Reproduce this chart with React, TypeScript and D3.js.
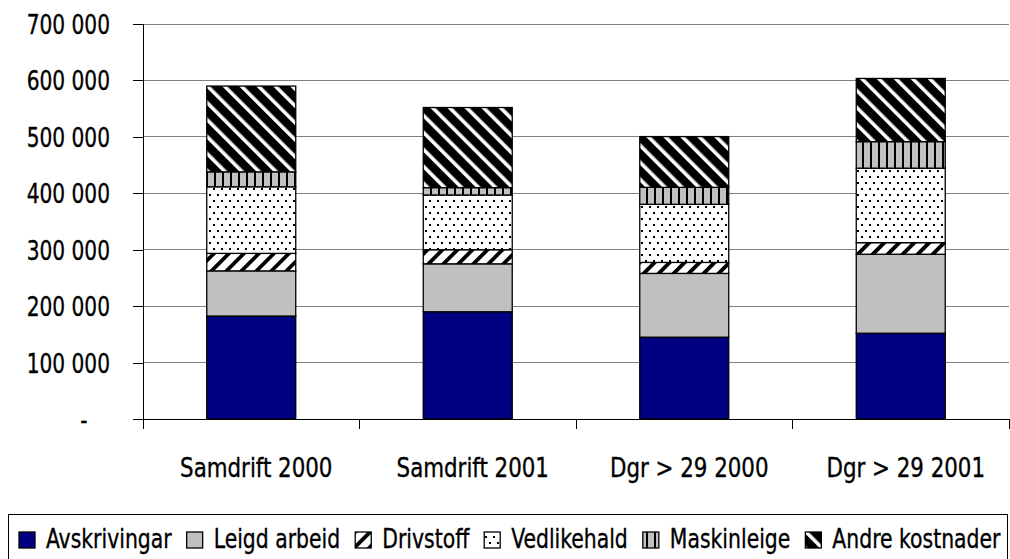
import React, { useEffect, useRef } from 'react';
import * as d3 from 'd3';

const categories = ['Samdrift 2000', 'Samdrift 2001', 'Dgr > 29 2000', 'Dgr > 29 2001'];
const seriesNames = ['Avskrivingar', 'Leigd arbeid', 'Drivstoff', 'Vedlikehald', 'Maskinleige', 'Andre kostnader'];
const avskrivingar = [182500, 190000, 145000, 152000];
const leigdArbeid = [80000, 85000, 113000, 140000];
const drivstoff = [31000, 25000, 19500, 20500];
const vedlikehald = [118000, 97000, 103000, 132000];
const maskinleige = [26500, 13000, 30000, 47000];
const andreKostnader = [152000, 142000, 90000, 112000];
const yTicks = [0, 100000, 200000, 300000, 400000, 500000, 600000, 700000];

const FONT = "'DejaVu Sans Condensed', 'DejaVu Sans', sans-serif";

export default function App() {
  const svgRef = useRef<SVGSVGElement>(null);

  useEffect(() => {
    document.body.style.margin = '0';
    const svg = d3.select(svgRef.current);
    svg.selectAll('*').remove();
    const width = 1010;
    const height = 559;
    const margin = { top: 24, right: 1, bottom: 140, left: 143 };

    const x = d3.scaleBand()
      .domain(categories)
      .range([margin.left, width - margin.right])
      .paddingInner(0.589)
      .paddingOuter(0.2945);

    const y = d3.scaleLinear()
      .domain([0, 700000])
      .range([height - margin.bottom, margin.top]);

    // condensed text helper (the original uses a narrow font)
    const addText = (g: any, tx: number, ty: number, str: string, anchor: string, sx: number, size = 27) =>
      g.append('text')
        .attr('transform', `translate(${tx},${ty}) scale(${sx},1)`)
        .attr('text-anchor', anchor)
        .attr('font-family', FONT)
        .attr('font-size', size)
        .attr('fill', '#000')
        .attr('stroke', '#000')
        .attr('stroke-width', 0.35)
        .text(str);

    // patterns
    const defs = svg.append('defs');
    const p1 = defs.append('pattern').attr('id', 'p-driv').attr('patternUnits', 'userSpaceOnUse')
      .attr('width', 10.6).attr('height', 10.6).attr('patternTransform', 'rotate(45)');
    p1.append('rect').attr('width', 10.6).attr('height', 10.6).attr('fill', '#fff');
    p1.append('rect').attr('width', 3.8).attr('height', 10.6).attr('fill', '#000');

    const p2 = defs.append('pattern').attr('id', 'p-ved').attr('patternUnits', 'userSpaceOnUse')
      .attr('width', 8).attr('height', 12);
    p2.append('rect').attr('width', 8).attr('height', 12).attr('fill', '#fff');
    p2.append('rect').attr('x', 1).attr('y', 2).attr('width', 2).attr('height', 2).attr('fill', '#000');
    p2.append('rect').attr('x', 5).attr('y', 8).attr('width', 2).attr('height', 2).attr('fill', '#000');

    const p3 = defs.append('pattern').attr('id', 'p-mask').attr('patternUnits', 'userSpaceOnUse')
      .attr('width', 8).attr('height', 8);
    p3.append('rect').attr('width', 8).attr('height', 8).attr('fill', '#c0c0c0');
    p3.append('rect').attr('x', 6).attr('width', 2).attr('height', 8).attr('fill', '#000');

    const p4 = defs.append('pattern').attr('id', 'p-andre').attr('patternUnits', 'userSpaceOnUse')
      .attr('width', 12).attr('height', 12).attr('patternTransform', 'rotate(-45)');
    p4.append('rect').attr('width', 12).attr('height', 12).attr('fill', '#000');
    p4.append('rect').attr('width', 3.6).attr('height', 12).attr('fill', '#fff');

    const fills = ['#000080', '#c0c0c0', 'url(#p-driv)', 'url(#p-ved)', 'url(#p-mask)', 'url(#p-andre)'];

    // gridlines
    svg.append('g')
      .selectAll('line')
      .data(yTicks.slice(1))
      .enter()
      .append('line')
      .attr('x1', margin.left)
      .attr('x2', width - margin.right)
      .attr('y1', d => y(d))
      .attr('y2', d => y(d))
      .attr('stroke', '#808080')
      .attr('stroke-width', 1)
      .attr('shape-rendering', 'crispEdges');

    // y axis
    const yAxis = svg.append('g')
      .attr('transform', `translate(${margin.left},0)`)
      .call(d3.axisLeft(y).tickValues(yTicks).tickSize(10).tickFormat(() => ''));
    yAxis.select('.domain').attr('stroke', '#000').attr('shape-rendering', 'crispEdges');
    yAxis.selectAll('.tick line').attr('stroke', '#000').attr('shape-rendering', 'crispEdges');
    yTicks.forEach(v => {
      if (v === 0) {
        addText(yAxis, -59, y(v) + 10, '-', 'middle', 0.83);
      } else {
        addText(yAxis, -33, y(v) + 10, d3.format(',')(v).replace(/,/g, ' '), 'end', 0.83);
      }
    });

    // stacked bars
    const rows = categories.map((c, i) => ({
      cat: c,
      [seriesNames[0]]: avskrivingar[i],
      [seriesNames[1]]: leigdArbeid[i],
      [seriesNames[2]]: drivstoff[i],
      [seriesNames[3]]: vedlikehald[i],
      [seriesNames[4]]: maskinleige[i],
      [seriesNames[5]]: andreKostnader[i],
    }));
    const stacked = d3.stack<any>().keys(seriesNames)(rows);

    svg.append('g')
      .selectAll('g')
      .data(stacked)
      .enter()
      .append('g')
      .attr('fill', (d, i) => fills[i])
      .selectAll('rect')
      .data(d => d)
      .enter()
      .append('rect')
      .attr('x', d => x(d.data.cat) as number)
      .attr('y', d => y(d[1]))
      .attr('width', x.bandwidth())
      .attr('height', d => y(d[0]) - y(d[1]))
      .attr('stroke', '#000')
      .attr('stroke-width', 1.3);

    // x axis
    const xAxisG = svg.append('g').attr('transform', `translate(0,${y(0)})`);
    xAxisG.append('line')
      .attr('x1', margin.left - 10).attr('x2', width - margin.right)
      .attr('stroke', '#000').attr('shape-rendering', 'crispEdges');
    const step = x.step();
    xAxisG.selectAll('line.tk')
      .data(d3.range(categories.length + 1))
      .enter()
      .append('line')
      .attr('class', 'tk')
      .attr('x1', i => margin.left + i * step)
      .attr('x2', i => margin.left + i * step)
      .attr('y1', 0).attr('y2', 10)
      .attr('stroke', '#000').attr('shape-rendering', 'crispEdges');
    categories.forEach(c => {
      addText(xAxisG, (x(c) as number) + x.bandwidth() / 2 + 5, 58, c, 'middle', 0.88);
    });

    // legend
    const lg = svg.append('g');
    lg.append('rect')
      .attr('x', 8.5).attr('y', 514.5)
      .attr('width', 999).attr('height', 60)
      .attr('fill', '#fff').attr('stroke', '#000');
    let cx = 19;
    const sx = 0.84;
    seriesNames.forEach((name, i) => {
      lg.append('rect')
        .attr('x', cx).attr('y', 532)
        .attr('width', 16).attr('height', 16)
        .attr('fill', fills[i]).attr('stroke', '#000').attr('stroke-width', 1.3);
      const t = addText(lg, cx + 27, 548, name, 'start', sx);
      const w = (t.node() as SVGTextElement).getComputedTextLength() * sx;
      cx = cx + 27 + w + 15;
    });
  }, []);

  return <svg ref={svgRef} width={1010} height={559} style={{ display: 'block' }}></svg>;
}
